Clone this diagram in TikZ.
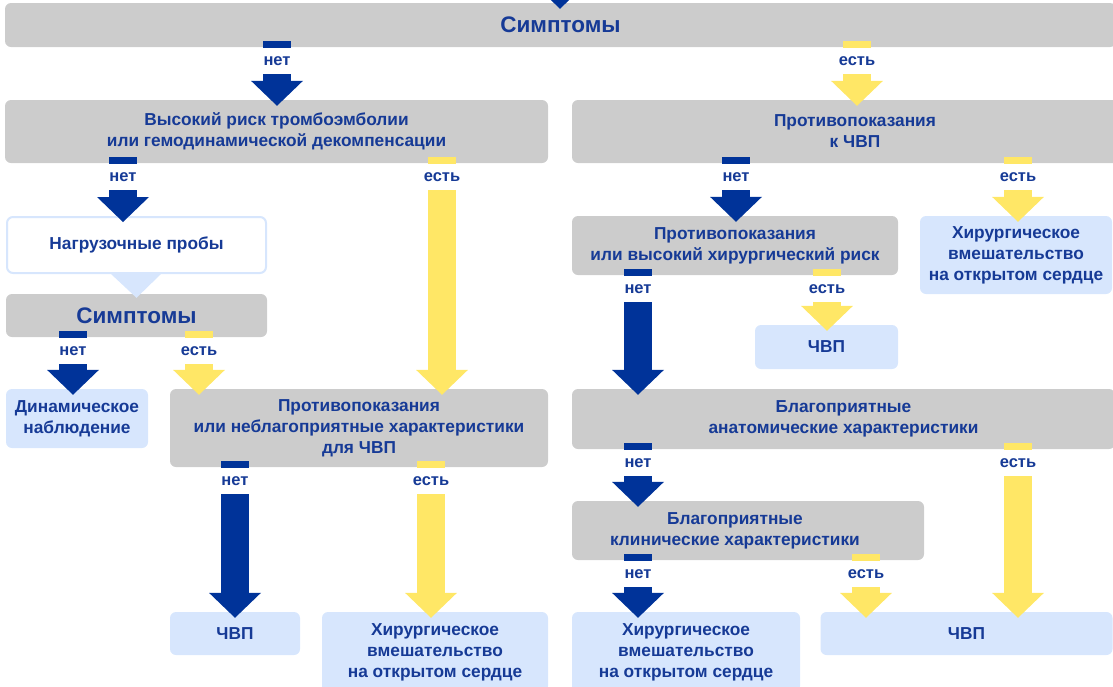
\documentclass[tikz,border=0pt]{standalone}
\usepackage{fontspec}
\setmainfont{Liberation Sans}
\usetikzlibrary{arrows.meta}

\definecolor{navy}{RGB}{0,51,153}
\definecolor{txtblue}{RGB}{22,58,150}
\definecolor{sun}{RGB}{255,231,102}
\definecolor{pale}{RGB}{215,230,253}
\definecolor{greybox}{RGB}{204,204,204}

\begin{document}
\begin{tikzpicture}[x=1pt,y=-1pt,
  box/.style={rounded corners=6pt,text=txtblue,align=center,inner sep=0pt,
    font=\bfseries\fontsize{17.3}{21}\selectfont},
  gbox/.style={box,fill=greybox},
  bbox/.style={box,fill=pale},
  big/.style={font=\bfseries\fontsize{22.5}{25}\selectfont},
  no/.style={line width=28pt,draw=navy,shorten <=-6pt,shorten >=-6pt,
    -{Triangle[width=52pt,length=25pt,line width=0pt]}},
  yes/.style={no,draw=sun},
  ans/.style={fill=white,text=txtblue,inner sep=0pt,outer sep=0pt,line width=0pt,
    minimum width=36pt,minimum height=26pt,font=\bfseries\fontsize{16.5}{20}\selectfont,
    pos=0,anchor=north,yshift=-1pt}]
  \useasboundingbox (0,0) rectangle (1113,686);
  \clip (0,0) rectangle (1113,686);

  \node[gbox,big,minimum width=1111pt,minimum height=44pt] (sym) at (560.5,25) {Симптомы};
  \node[gbox,minimum width=543pt,minimum height=63pt] (risk) at (276.5,131.5)
    {Высокий риск тромбоэмболии\\или гемодинамической декомпенсации};
  \node[gbox,minimum width=566pt,minimum height=63pt] (contra) at (855,131.5)
    {Противопоказания\\к ЧВП};
  \node[box,fill=white,draw=pale,line width=2pt,minimum width=259pt,minimum height=56pt]
    (load) at (136.5,245) {Нагрузочные пробы};
  \node[gbox,big,minimum width=261pt,minimum height=43pt] (sym2) at (136.5,315.5) {Симптомы};
  \node[bbox,minimum width=142pt,minimum height=59pt] (watch) at (77,418.5)
    {Динамическое\\наблюдение};
  \node[gbox,minimum width=378pt,minimum height=78pt] (unfav) at (359,428)
    {Противопоказания\\или неблагоприятные характеристики\\для ЧВП};
  \node[bbox,minimum width=130pt,minimum height=43pt] (cvpa) at (235,633.5) {ЧВП};
  \node[bbox,minimum width=226pt,minimum height=80pt] (surga) at (435,652)
    {Хирургическое\\вмешательство\\на открытом сердце};
  \node[gbox,minimum width=326pt,minimum height=59pt] (risk2) at (735,245.5)
    {Противопоказания\\или высокий хирургический риск};
  \node[bbox,minimum width=192pt,minimum height=78pt] (surgb) at (1016,255)
    {Хирургическое\\вмешательство\\на открытом сердце};
  \node[bbox,minimum width=143pt,minimum height=44pt] (cvpb) at (826.5,347) {ЧВП};
  \node[gbox,minimum width=543pt,minimum height=60pt] (anat) at (843.5,419)
    {Благоприятные\\анатомические характеристики};
  \node[gbox,minimum width=352pt,minimum height=59pt,
    label={[box,xshift=-13pt]center:{Благоприятные\\клинические характеристики}}]
    (clin) at (748,530.5) {};
  \node[bbox,minimum width=228pt,minimum height=80pt] (surgc) at (686,652)
    {Хирургическое\\вмешательство\\на открытом сердце};
  \node[bbox,minimum width=292pt,minimum height=43pt] (cvpc) at (966.5,633.5) {ЧВП};

  \coordinate (in) at (560,-40);
  \draw[no] (in) -- (sym.north -| 560,0);
  \draw[no] (sym.south -| 277,0) -- node[ans]{нет} (risk.north -| 277,0);
  \draw[yes] (sym.south -| 857,0) -- node[ans]{есть} (contra.north -| 857,0);
  \draw[no] (risk.south -| 123,0) -- node[ans]{нет} (load.north -| 123,0);
  \draw[yes] (risk.south -| 442,0) -- node[ans]{есть} (unfav.north -| 442,0);
  \fill[pale] (load.south -| 111,0) -- (load.south -| 161,0) -- ([yshift=-4pt]sym2.north) -- cycle;
  \draw[no] (sym2.south -| 73,0) -- node[ans]{нет} (watch.north -| 73,0);
  \draw[yes] (sym2.south -| 199,0) -- node[ans]{есть} (unfav.north -| 199,0);
  \draw[no] (unfav.south -| 235,0) -- node[ans]{нет} (cvpa.north -| 235,0);
  \draw[yes] (unfav.south -| 431,0) -- node[ans]{есть} (surga.north -| 431,0);
  \draw[no] (contra.south -| 736,0) -- node[ans]{нет} (risk2.north -| 736,0);
  \draw[yes] (contra.south -| 1018,0) -- node[ans]{есть} (surgb.north -| 1018,0);
  \draw[no] (risk2.south -| 638,0) -- node[ans]{нет} (anat.north -| 638,0);
  \draw[yes] (risk2.south -| 827,0) -- node[ans]{есть} (cvpb.north -| 827,0);
  \draw[no] (anat.south -| 638,0) -- node[ans]{нет} (clin.north -| 638,0);
  \draw[yes] (anat.south -| 1018,0) -- node[ans]{есть} (cvpc.north -| 1018,0);
  \draw[no] (clin.south -| 638,0) -- node[ans]{нет} (surgc.north -| 638,0);
  \draw[yes] (clin.south -| 866,0) -- node[ans]{есть} (cvpc.north -| 866,0);
\end{tikzpicture}
\end{document}
